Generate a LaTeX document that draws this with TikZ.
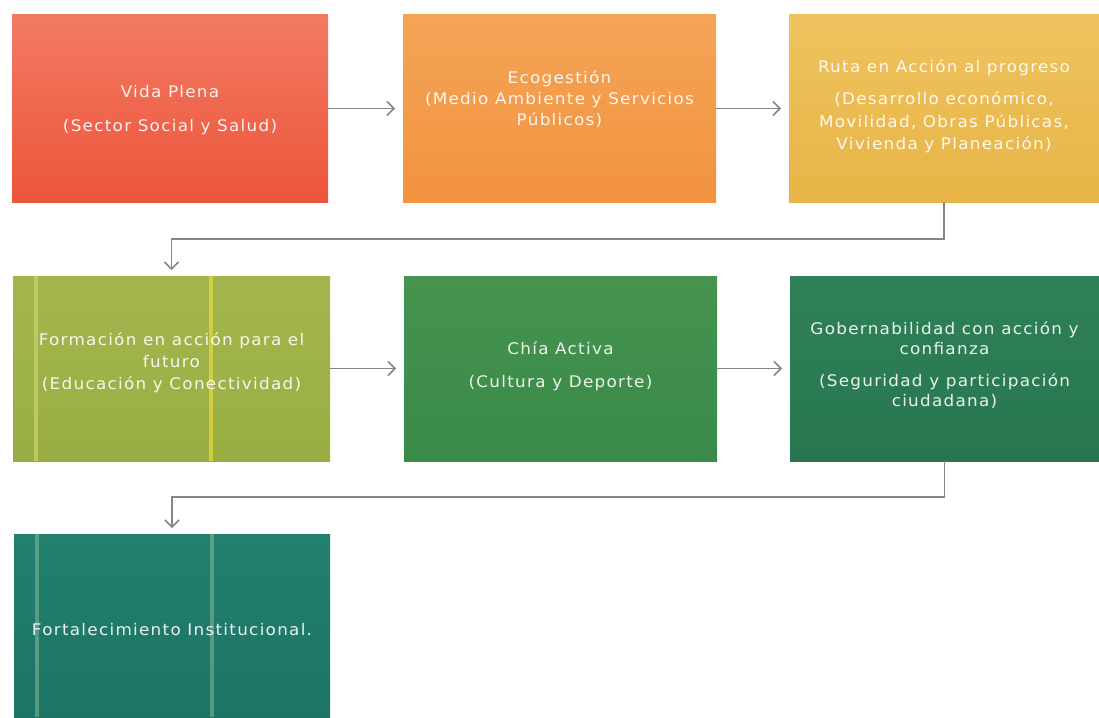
\documentclass[tikz,border=0pt]{standalone}
\usepackage{fontspec}
\newfontfamily\boxfont[FakeStretch=1.05,LetterSpace=8]{DejaVu Sans}
\usetikzlibrary{arrows.meta,calc}
\definecolor{c1t}{HTML}{F27A63}
\definecolor{c1b}{HTML}{EC553A}
\definecolor{c2t}{HTML}{F4A457}
\definecolor{c2b}{HTML}{F2933F}
\definecolor{c3t}{HTML}{EEC35E}
\definecolor{c3b}{HTML}{E8B447}
\definecolor{c4t}{HTML}{A3B64E}
\definecolor{c4b}{HTML}{98AE42}
\definecolor{c5t}{HTML}{45934F}
\definecolor{c5b}{HTML}{3A8A48}
\definecolor{c6t}{HTML}{2F8057}
\definecolor{c6b}{HTML}{277650}
\definecolor{c7t}{HTML}{22806D}
\definecolor{c7b}{HTML}{1D7466}
\definecolor{linegray}{HTML}{858585}
\definecolor{stripeY}{HTML}{E6D83A}
\definecolor{stripeL}{HTML}{C9D36A}
\definecolor{stripeT}{HTML}{8FC09A}
\begin{document}
\begin{tikzpicture}[x=1pt,y=-1pt,
  box/.style={anchor=north west, inner sep=0pt, outer sep=0pt, draw=none},
  txt/.style={align=center, text=white, text opacity=0.9, inner sep=0pt,
    font=\boxfont\fontsize{16}{20}\selectfont},
  conn/.style={draw=linegray, line width=1.5pt,
    -{Straight Barb[length=7pt,width=14pt,line width=1.5pt]}},
  stripe/.style={line width=4pt, opacity=.75}]
\fill[white] (0,0) rectangle (1099,717);
\useasboundingbox (0,0) rectangle (1099,717);

% boxes
\node[box, minimum width=316, minimum height=187, top color=c1t, bottom color=c1b] (b1) at (12,15) {};
\node[box, minimum width=313, minimum height=187, top color=c2t, bottom color=c2b] (b2) at (403,15) {};
\node[box, minimum width=310, minimum height=187, top color=c3t, bottom color=c3b] (b3) at (789,15) {};
\node[box, minimum width=317, minimum height=185, top color=c4t, bottom color=c4b] (b4) at (13,276) {};
\node[box, minimum width=313, minimum height=185, top color=c5t, bottom color=c5b] (b5) at (404,276) {};
\node[box, minimum width=309, minimum height=185, top color=c6t, bottom color=c6b] (b6) at (790,276) {};
\node[box, minimum width=316, minimum height=183, top color=c7t, bottom color=c7b] (b7) at (14,534) {};

% scan stripes
\draw[stripe, draw=stripeL] (36,276) -- (36,461);
\draw[stripe, draw=stripeY] (211,276) -- (211,461);
\draw[stripe, draw=stripeT, opacity=.5] (37,534) -- (37,717);
\draw[stripe, draw=stripeT, opacity=.5] (212,534) -- (212,717);

% texts
\node[txt] (t1) at ($(b1.center)+(0,2)$) {Vida Plena\\[14pt](Sector Social y Salud)};
\node[txt, font=\boxfont\fontsize{16}{21}\selectfont] (t2) at ($(b2.center)+(0,-9)$) {Ecogestión\\(Medio Ambiente y Servicios\\Públicos)};
\node[txt, font=\boxfont\fontsize{16}{22.5}\selectfont] (t3) at ($(b3.center)+(0,-2)$) {Ruta en Acción al progreso\\[10pt](Desarrollo económico,\\Movilidad, Obras Públicas,\\Vivienda y Planeación)};
\node[txt, font=\boxfont\fontsize{16}{22}\selectfont] (t4) at ($(b4.center)+(0,-6)$) {Formación en acción para el\\futuro\\(Educación y Conectividad)};
\node[txt] (t5) at ($(b5.center)+(0,-2)$) {Chía Activa\\[13pt](Cultura y Deporte)};
\node[txt] (t6) at ($(b6.center)+(0,-3)$) {Gobernabilidad con acción y\\confianza\\[12pt](Seguridad y participación\\ciudadana)};
\node[txt] (t7) at ($(b7.north)+(0,96)$) {Fortalecimiento Institucional.};

% connectors
\draw[conn, shorten >=8pt] (b1.east) -- (b2.west);
\draw[conn, shorten >=8pt] (b2.east) -- (b3.west);
\draw[conn, shorten >=8pt] (b4.east) -- (b5.west);
\draw[conn, shorten >=8pt] (b5.east) -- (b6.west);
\draw[conn, shorten >=6pt] (b3.south) -- ++(0,37) coordinate (k1) -| (b4.north);
\draw[conn, shorten >=6pt] (b6.south) -- ++(0,36) coordinate (k2) -| (b7.north);
\end{tikzpicture}
\end{document}
